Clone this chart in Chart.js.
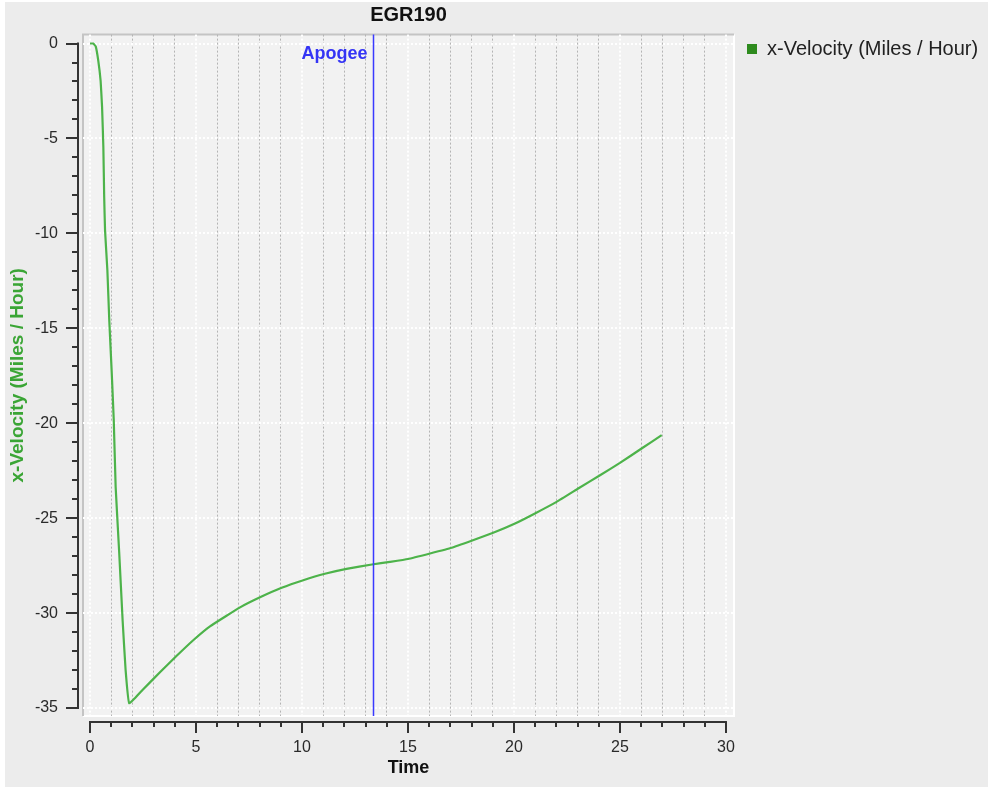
<!DOCTYPE html>
<html><head><meta charset="utf-8">
<script src="https://cdn.jsdelivr.net/npm/chart.js@4.4.1/dist/chart.umd.min.js"></script>
<style>html,body{margin:0;padding:0;background:#fff;overflow:hidden}canvas{display:block}</style>
</head><body>
<canvas id="c" width="991" height="790"></canvas>
<script>
const chartTitle = 'EGR190';
const seriesLabel = 'x-Velocity (Miles / Hour)';
const xAxisTitle = 'Time';
const yAxisTitle = 'x-Velocity (Miles / Hour)';
const time = [0, 0.15, 0.27, 0.39, 0.5, 0.57, 0.63, 0.67, 0.71, 0.82, 0.91, 1.02, 1.12, 1.21, 1.38, 1.54, 1.68, 1.85,
  2.5, 3.3, 4.09, 4.87, 5.66, 7.08, 8.02, 9.04, 10.06, 11.08, 12.1, 13.3, 14.15, 15.0, 16.04, 17.06, 18.0, 19.02,
  20.05, 20.99, 22.01, 23.03, 24.06, 25.0, 26.02, 26.97];
const xVelocity = [0, 0, -0.15, -0.9, -1.95, -3.35, -5.46, -8.1, -9.84, -11.95, -14.6, -17.2, -19.8, -23.35, -26.86, -30.4, -33.0, -34.75,
  -34.02, -33.12, -32.25, -31.43, -30.7, -29.7, -29.17, -28.67, -28.27, -27.93, -27.67, -27.44, -27.3, -27.15, -26.86, -26.56, -26.19, -25.77,
  -25.28, -24.75, -24.14, -23.44, -22.74, -22.09, -21.33, -20.63];
const xTickLabels = [0, 5, 10, 15, 20, 25, 30];
const yTickLabels = [0, -5, -10, -15, -20, -25, -30, -35];
const apogeeTime = 13.33;
const apogeeLabel = 'Apogee';

const FONT = "'Liberation Sans', Arial, Helvetica, sans-serif";
Chart.defaults.font.family = FONT;
Chart.defaults.color = '#222';

const LEGEND_FS = 20;
const mctx = document.createElement('canvas').getContext('2d');
mctx.font = 'normal ' + LEGEND_FS + 'px ' + FONT;
const legendTextW = mctx.measureText(seriesLabel).width;
const legendPadRight = Math.max(0, 991 - 734 - (13 + 10 + LEGEND_FS / 2 + legendTextW + 10));

function seg(ctx, x1, y1, x2, y2) { ctx.beginPath(); ctx.moveTo(x1, y1); ctx.lineTo(x2, y2); ctx.stroke(); }

const decor = {
  id: 'decor',
  beforeDraw(chart) {
    const {ctx, chartArea: a, width, height} = chart;
    ctx.save();
    ctx.fillStyle = '#ffffff'; ctx.fillRect(0, 0, width, height);
    ctx.fillStyle = '#ececec'; ctx.fillRect(5, 2, width - 8, height - 5);
    ctx.fillStyle = '#f2f2f2'; ctx.fillRect(a.left, a.top, a.right - a.left, a.bottom - a.top);
    ctx.lineWidth = 2;
    ctx.strokeStyle = '#ffffff';
    ctx.beginPath(); ctx.moveTo(a.left, a.bottom); ctx.lineTo(a.right, a.bottom); ctx.lineTo(a.right, a.top); ctx.stroke();
    ctx.strokeStyle = '#c4c4c4';
    ctx.beginPath(); ctx.moveTo(a.left, a.bottom); ctx.lineTo(a.left, a.top); ctx.lineTo(a.right, a.top); ctx.stroke();
    ctx.restore();
  },
  afterDatasetsDraw(chart) {
    const {ctx, chartArea: a} = chart;
    const xs = chart.scales.x;
    ctx.save();
    const px = Math.round(xs.getPixelForValue(apogeeTime)) + 0.5;
    ctx.strokeStyle = '#3a3aff'; ctx.lineWidth = 1.5;
    seg(ctx, px, a.top, px, a.bottom);
    ctx.fillStyle = '#3434f5';
    ctx.font = 'bold 18px ' + FONT;
    ctx.textAlign = 'right'; ctx.textBaseline = 'middle';
    ctx.fillText(apogeeLabel, px - 6, a.top + 19);
    ctx.restore();
  },
  afterDraw(chart) {
    const {ctx, chartArea: a} = chart;
    const xs = chart.scales.x, ys = chart.scales.y;
    ctx.save();
    ctx.strokeStyle = '#333'; ctx.lineWidth = 2;
    const ax = a.left - 5;
    const yTop = ys.getPixelForValue(yTickLabels[0]);
    const yBot = ys.getPixelForValue(yTickLabels[yTickLabels.length - 1]);
    seg(ctx, ax, yTop - 1, ax, yBot + 1);
    ys.ticks.forEach(t => {
      const p = Math.round(ys.getPixelForValue(t.value));
      const major = yTickLabels.includes(t.value);
      seg(ctx, ax - (major ? 12 : 6), p, ax, p);
    });
    const ay = a.bottom + 6;
    const xL = xs.getPixelForValue(xTickLabels[0]);
    const xR = xs.getPixelForValue(xTickLabels[xTickLabels.length - 1]);
    seg(ctx, xL - 1, ay, xR + 1, ay);
    xs.ticks.forEach(t => {
      const p = Math.round(xs.getPixelForValue(t.value));
      const major = xTickLabels.includes(t.value);
      seg(ctx, p, ay, p, ay + (major ? 11 : 5));
    });
    ctx.restore();
  }
};

new Chart(document.getElementById('c'), {
  type: 'line',
  data: {
    datasets: [{
      label: seriesLabel,
      data: time.map((t, i) => ({x: t, y: xVelocity[i]})),
      borderColor: '#4db34a',
      backgroundColor: '#2e8b1e',
      borderWidth: 2.2,
      pointRadius: 0,
      tension: 0.1,
      fill: false
    }]
  },
  options: {
    responsive: false,
    animation: false,
    devicePixelRatio: 1,
    events: [],
    layout: {padding: {left: 0, top: 0, bottom: 0, right: legendPadRight}},
    plugins: {
      tooltip: {enabled: false},
      title: {
        display: true, text: chartTitle, fullSize: false, color: '#111',
        font: {size: 20, weight: 'bold', lineHeight: 1.2},
        padding: {top: 3, bottom: 7}
      },
      legend: {
        position: 'right', align: 'start', maxWidth: 300,
        title: {display: true, text: '', color: 'rgba(0,0,0,0)', font: {size: 10, lineHeight: 2.6}, padding: 0},
        labels: {
          boxWidth: 10, boxHeight: 10, padding: 13, color: '#222',
          font: {size: LEGEND_FS},
          generateLabels(chart) {
            const items = Chart.defaults.plugins.legend.labels.generateLabels(chart);
            items.forEach(it => { it.fillStyle = '#2e8b1e'; it.strokeStyle = '#2e8b1e'; it.lineWidth = 0; });
            return items;
          }
        }
      }
    },
    scales: {
      x: {
        type: 'linear', position: 'bottom',
        min: -0.33, max: 30.38,
        afterFit(s) { s.height = 74; },
        ticks: {
          stepSize: 1, includeBounds: false, autoSkip: false, maxRotation: 0, minRotation: 0,
          padding: 22, color: '#2a2a2a', font: {size: 16},
          callback: v => xTickLabels.includes(v) ? String(v) : ''
        },
        grid: {
          drawTicks: false,
          color: c => (c.tick && xTickLabels.includes(c.tick.value)) ? '#ffffff' : '#b4b4b4',
          lineWidth: c => (c.tick && xTickLabels.includes(c.tick.value)) ? 2 : 1
        },
        border: {display: false, dash: [2, 2]},
        title: {display: true, text: xAxisTitle, color: '#111', font: {size: 18, weight: 'bold', lineHeight: 1.2}, padding: {top: 0, bottom: 11}}
      },
      y: {
        type: 'linear', position: 'left',
        min: -35.42, max: 0.47,
        afterFit(s) { s.width = 83; },
        ticks: {
          stepSize: 1, includeBounds: false, autoSkip: false,
          padding: 25, color: '#2a2a2a', font: {size: 16},
          callback: v => yTickLabels.includes(v) ? String(v) : ''
        },
        grid: {
          drawTicks: false,
          color: c => (c.tick && yTickLabels.includes(c.tick.value)) ? '#ffffff' : 'rgba(0,0,0,0)',
          lineWidth: 2
        },
        border: {display: false, dash: [2, 2]},
        title: {display: true, text: yAxisTitle, color: '#3aa535', font: {size: 19, weight: 'bold', lineHeight: 1.2}, padding: {top: 6.6, bottom: 0}}
      }
    }
  },
  plugins: [decor]
});
</script>
</body></html>
